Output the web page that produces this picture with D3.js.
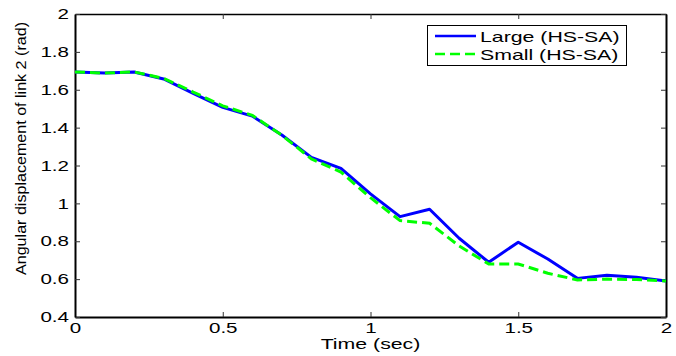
<!DOCTYPE html>
<html>
<head>
<meta charset="utf-8">
<script src="https://cdn.jsdelivr.net/npm/d3@7/dist/d3.min.js"></script>
<style>
  html, body { margin: 0; padding: 0; background: #fff; }
  svg { display: block; font-family: "Liberation Sans", Arial, sans-serif; }
</style>
</head>
<body>
<svg id="chart" width="676" height="356"></svg>
<script>
// Simulation time samples (sec)
const time = [0, 0.1, 0.2, 0.3, 0.4, 0.5, 0.6, 0.7, 0.8, 0.9, 1.0,
              1.1, 1.2, 1.3, 1.4, 1.5, 1.6, 1.7, 1.8, 1.9, 2.0];
// Angular displacement of link 2 (rad)
const large = [1.694, 1.688, 1.694, 1.657, 1.581, 1.507, 1.461, 1.361, 1.243, 1.185, 1.050,
               0.930, 0.969, 0.816, 0.689, 0.795, 0.706, 0.604, 0.620, 0.610, 0.590];
const small = [1.694, 1.688, 1.694, 1.660, 1.588, 1.515, 1.465, 1.360, 1.235, 1.165, 1.030,
               0.909, 0.895, 0.775, 0.680, 0.680, 0.631, 0.596, 0.600, 0.598, 0.590];
const seriesNames = ["Large (HS-SA)", "Small (HS-SA)"];
const xTicks = [0, 0.5, 1, 1.5, 2];
const yTicks = [0.4, 0.6, 0.8, 1, 1.2, 1.4, 1.6, 1.8, 2];

const svg = d3.select("#chart");
const W = 676, H = 356;
const m = { left: 75, top: 14, right: 10, bottom: 39 };
const iw = W - m.left - m.right, ih = H - m.top - m.bottom;

const x = d3.scaleLinear().domain([0, 2]).range([m.left, m.left + iw]);
const y = d3.scaleLinear().domain([0.4, 2]).range([m.top + ih, m.top]);

const fmt = d => String(+d.toFixed(1));
const FS = 14.5;      // label font size
const SX = 1.42;      // horizontal widening of the label glyphs

// widen a text horizontally about its anchor point (ax, ay)
function widen(sel, ax, ay) {
  sel.attr("transform", `translate(${ax},${ay}) scale(${SX},1) translate(${-ax},${-ay})`);
}

// Axes with inward ticks on all four sides
const tickLen = 5;
const gx = svg.append("g").attr("transform", `translate(0,${m.top + ih})`)
  .call(d3.axisBottom(x).tickValues(xTicks).tickFormat(fmt).tickSizeInner(-tickLen).tickSizeOuter(0).tickPadding(5.5))
  .call(g => g.select(".domain").attr("stroke-width", 2));
svg.append("g").attr("transform", `translate(0,${m.top})`)
  .call(d3.axisTop(x).tickValues(xTicks).tickFormat("").tickSizeInner(-tickLen).tickSizeOuter(0))
  .call(g => g.select(".domain").attr("stroke-width", 1.5));
const gy = svg.append("g").attr("transform", `translate(${m.left},0)`)
  .call(d3.axisLeft(y).tickValues(yTicks).tickFormat(fmt).tickSizeInner(-tickLen).tickSizeOuter(0).tickPadding(6))
  .call(g => g.select(".domain").attr("stroke-width", 2));
svg.append("g").attr("transform", `translate(${m.left + iw},0)`)
  .call(d3.axisRight(y).tickValues(yTicks).tickFormat("").tickSizeInner(-tickLen).tickSizeOuter(0))
  .call(g => g.select(".domain").attr("stroke-width", 2));

svg.selectAll(".tick text").attr("font-size", FS).attr("fill", "#000")
  .attr("font-family", '"Liberation Sans", Arial, sans-serif');
svg.selectAll(".tick line").attr("stroke", "#333");
gx.selectAll(".tick text").each(function () { widen(d3.select(this), 0, 0); });
gy.selectAll(".tick text").each(function () { widen(d3.select(this), -6, 0); });

// Axis titles
svg.append("text").attr("x", x(1)).attr("y", 349)
  .attr("text-anchor", "middle").attr("font-size", 15).text("Time (sec)")
  .call(widen, x(1), 349);
svg.append("text")
  .attr("transform", `translate(26,${(22 + 275) / 2}) rotate(-90)`)
  .attr("text-anchor", "middle").attr("font-size", 14.5)
  .attr("textLength", 253).attr("lengthAdjust", "spacingAndGlyphs")
  .text("Angular displacement of link 2 (rad)");

// Series lines
const line = d3.line().x((d, i) => x(time[i])).y(d => y(d));
svg.append("path").datum(large).attr("d", line)
  .attr("fill", "none").attr("stroke", "#0000ff").attr("stroke-width", 3)
  .attr("stroke-linejoin", "round");
svg.append("path").datum(small).attr("d", line)
  .attr("fill", "none").attr("stroke", "#00ff00").attr("stroke-width", 3)
  .attr("stroke-dasharray", "10,5");

// Legend
const lg = svg.append("g");
lg.append("rect").attr("x", 427.5).attr("y", 25.5).attr("width", 199).attr("height", 40)
  .attr("fill", "#fff").attr("stroke", "#000").attr("stroke-width", 1);
const styles = [{ c: "#0000ff", d: null }, { c: "#00ff00", d: "10,5" }];
seriesNames.forEach((name, i) => {
  const cy = 36 + i * 18;
  lg.append("line").attr("x1", 435).attr("x2", 476).attr("y1", cy).attr("y2", cy)
    .attr("stroke", styles[i].c).attr("stroke-width", 2.5)
    .attr("stroke-dasharray", styles[i].d);
  lg.append("text").attr("x", 480).attr("y", cy + 6.3).attr("font-size", 15).text(name)
    .call(widen, 480, cy + 6.3);
});
</script>
</body>
</html>
